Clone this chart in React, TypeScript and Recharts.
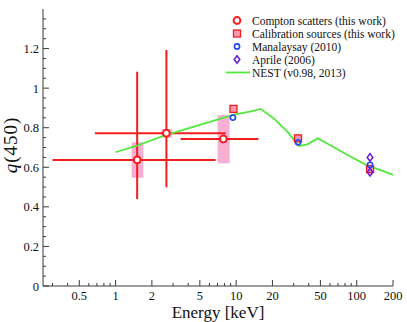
import { ScatterChart, Scatter, XAxis, YAxis, ErrorBar, ReferenceArea } from 'recharts'

const FONT = 'Liberation Serif, Times New Roman, Times, serif'
const RED = '#f41c1c'
const PINK = '#f7b0d4'
const SQUARE_FILL = '#f59ab0'
const GREEN = '#52e83c'
const BLUE = '#2448f2'
const PURPLE = '#6a18d2'
const AXIS = '#3a3a3a'

// Compton scatters (this work)
const comptonE = [1.51, 2.64, 7.83]
const comptonQ = [0.637, 0.772, 0.743]
const comptonELow = [0.3, 0.673, 3.46]
const comptonEHigh = [6.76, 8.18, 15.3]
const comptonQLow = [0.44, 0.499, 0.743]
const comptonQHigh = [1.083, 1.193, 0.743]

// systematic bands around the Compton points
const sysEMin = [1.36, 2.4, 7.02]
const sysEMax = [1.7, 2.95, 8.83]
const sysQMin = [0.547, 0.75, 0.62]
const sysQMax = [0.726, 0.793, 0.864]

// Calibration sources (this work)
const calibE = [9.5, 32.6, 129]
const calibQ = [0.895, 0.746, 0.591]

// Manalaysay (2010)
const manaE = [9.4, 32.6, 129]
const manaQ = [0.851, 0.726, 0.612]

// Aprile (2006)
const aprileE = [129, 129]
const aprileQ = [0.65, 0.575]

// NEST (v0.98, 2013)
const nestE = [1.0, 1.5, 2.6, 5.0, 9.6, 13, 16, 20.6, 26.6, 33.2, 39, 47.5, 60, 84, 122, 158, 200]
const nestQ = [0.676, 0.709, 0.763, 0.814, 0.866, 0.881, 0.895, 0.846, 0.78, 0.708, 0.716, 0.746, 0.713, 0.662, 0.61, 0.586, 0.562]

const xMajor = [0.5, 1, 2, 5, 10, 20, 50, 100, 200]
const xMinor = [0.3, 0.4, 0.6, 0.7, 0.8, 0.9, 3, 4, 6, 7, 8, 9, 30, 40, 60, 70, 80, 90]
const yMajor = [0, 0.2, 0.4, 0.6, 0.8, 1, 1.2]
const yMinor = [0.05, 0.1, 0.15, 0.25, 0.3, 0.35, 0.45, 0.5, 0.55, 0.65, 0.7, 0.75, 0.85, 0.9, 0.95, 1.05, 1.1, 1.15, 1.25, 1.3, 1.35]

const compton = comptonE.map((e, i) => ({
  x: e,
  y: comptonQ[i],
  ex: [e - comptonELow[i], comptonEHigh[i] - e],
  ey: [comptonQ[i] - comptonQLow[i], comptonQHigh[i] - comptonQ[i]],
}))
const calib = calibE.map((e, i) => ({ x: e, y: calibQ[i] }))
const mana = manaE.map((e, i) => ({ x: e, y: manaQ[i] }))
const aprile = aprileE.map((e, i) => ({ x: e, y: aprileQ[i] }))
const nest = nestE.map((e, i) => ({ x: e, y: nestQ[i] }))

const xTicks = [...xMajor, ...xMinor]
const yTicks = [...yMajor, ...yMinor]

const textStyle = { fontFamily: FONT }

const makeTick = (side: 'bottom' | 'top' | 'left' | 'right', major: number[], labels: boolean) => (props: any) => {
  const { x, y, payload } = props
  const big = major.includes(payload.value)
  const len = big ? 6 : 3
  let line
  if (side === 'bottom') line = <line x1={x} x2={x} y1={y} y2={y - len} stroke={AXIS} />
  else if (side === 'top') line = <line x1={x} x2={x} y1={y} y2={y + len} stroke={AXIS} />
  else if (side === 'left') line = <line x1={x} x2={x + len} y1={y} y2={y} stroke={AXIS} />
  else line = <line x1={x} x2={x - len} y1={y} y2={y} stroke={AXIS} />
  return (
    <g>
      {line}
      {labels && big && side === 'bottom' && (
        <text x={x} y={y + 14} textAnchor="middle" fontSize={12.5} style={textStyle} fill="#111">
          {payload.value}
        </text>
      )}
      {labels && big && side === 'left' && (
        <text x={x - 4} y={y + 4.5} textAnchor="end" fontSize={12.5} style={textStyle} fill="#111">
          {payload.value}
        </text>
      )}
    </g>
  )
}

const ComptonDot = ({ cx, cy }: any) => (
  <circle cx={cx} cy={cy} r={3.4} fill="#fff" stroke={RED} strokeWidth={2} />
)
const CalibSquare = ({ cx, cy }: any) => (
  <rect x={cx - 3.5} y={cy - 3.5} width={7} height={7} fill={SQUARE_FILL} stroke={RED} strokeWidth={1.3} />
)
const ManaCircle = ({ cx, cy }: any) => (
  <circle cx={cx} cy={cy} r={2.6} fill="none" stroke={BLUE} strokeWidth={1.6} />
)
const AprileDiamond = ({ cx, cy }: any) => (
  <path d={`M${cx},${cy - 3.8}L${cx + 2.8},${cy}L${cx},${cy + 3.8}L${cx - 2.8},${cy}Z`} fill="none" stroke={PURPLE} strokeWidth={1.5} />
)
const NoDot = () => <g />

const legendRows = [
  'Compton scatters (this work)',
  'Calibration sources (this work)',
  'Manalaysay (2010)',
  'Aprile (2006)',
  'NEST (v0.98, 2013)',
]

function LegendBox() {
  const icons = [
    <ComptonDot cx={237} cy={20.5} />,
    <CalibSquare cx={237} cy={33.5} />,
    <ManaCircle cx={237} cy={46.5} />,
    <AprileDiamond cx={237} cy={59.5} />,
    <line x1={226} x2={250} y1={72.5} y2={72.5} stroke={GREEN} strokeWidth={1.8} />,
  ]
  return (
    <svg width={407} height={322} style={{ position: 'absolute', left: 0, top: 0, pointerEvents: 'none' }}>
      {legendRows.map((t, i) => (
        <g key={t}>
          {icons[i]}
          <text x={252} y={24.5 + i * 13} fontSize={11.5} style={textStyle} fill="#111">
            {t}
          </text>
        </g>
      ))}
    </svg>
  )
}

export default function App() {
  return (
    <div style={{ position: 'absolute', left: 0, top: 0, width: 407, height: 322, background: '#fff', fontFamily: FONT }}>
      <ScatterChart width={407} height={322} margin={{ top: 9, right: 14, bottom: 0, left: 0 }}>
        <XAxis
          xAxisId="b"
          dataKey="x"
          type="number"
          scale="log"
          domain={[0.25, 200]}
          allowDataOverflow
          ticks={xTicks}
          interval={0}
          tickSize={0}
          tickMargin={0}
          tickLine={false}
          axisLine={{ stroke: AXIS }}
          height={36}
          tick={makeTick('bottom', xMajor, true)}
          label={{
            content: () => (
              <text x={218} y={318} textAnchor="middle" fontSize={17} style={textStyle} fill="#111">
                Energy [keV]
              </text>
            ),
          }}
        />
        <XAxis
          xAxisId="t"
          orientation="top"
          dataKey="x"
          type="number"
          scale="log"
          domain={[0.25, 200]}
          allowDataOverflow
          ticks={xTicks}
          interval={0}
          tickSize={0}
          tickMargin={0}
          tickLine={false}
          axisLine={{ stroke: AXIS }}
          height={0}
          tick={makeTick('top', xMajor, false)}
        />
        <YAxis
          yAxisId="l"
          dataKey="y"
          type="number"
          domain={[0, 1.4]}
          allowDataOverflow
          ticks={yTicks}
          interval={0}
          tickSize={0}
          tickMargin={0}
          tickLine={false}
          axisLine={{ stroke: AXIS }}
          width={43}
          tick={makeTick('left', yMajor, true)}
          label={{
            content: () => (
              <text x={17} y={145} transform="rotate(-90 17 145)" textAnchor="middle" fontSize={19} style={textStyle} fill="#111" letterSpacing={1}>
                <tspan fontStyle="italic">q</tspan>
                <tspan>(450)</tspan>
              </text>
            ),
          }}
        />
        <YAxis
          yAxisId="r"
          orientation="right"
          dataKey="y"
          type="number"
          domain={[0, 1.4]}
          allowDataOverflow
          ticks={yTicks}
          interval={0}
          tickSize={0}
          tickMargin={0}
          tickLine={false}
          axisLine={{ stroke: AXIS }}
          width={0}
          tick={makeTick('right', yMajor, false)}
        />

        {comptonE.map((_, i) => (
          <ReferenceArea
            key={i}
            xAxisId="b"
            yAxisId="l"
            x1={sysEMin[i]}
            x2={sysEMax[i]}
            y1={sysQMin[i]}
            y2={sysQMax[i]}
            fill={PINK}
            fillOpacity={1}
            stroke="none"
          />
        ))}

        <Scatter
          xAxisId="b"
          yAxisId="l"
          data={nest}
          line={{ stroke: GREEN, strokeWidth: 1.8 }}
          shape={NoDot}
          isAnimationActive={false}
        />
        <Scatter xAxisId="b" yAxisId="l" data={compton} shape={ComptonDot} isAnimationActive={false}>
          <ErrorBar dataKey="ex" direction="x" width={0} stroke={RED} strokeWidth={2} />
          <ErrorBar dataKey="ey" direction="y" width={0} stroke={RED} strokeWidth={2} />
        </Scatter>
        <Scatter xAxisId="b" yAxisId="l" data={calib} shape={CalibSquare} isAnimationActive={false} />
        <Scatter xAxisId="b" yAxisId="l" data={mana} shape={ManaCircle} isAnimationActive={false} />
        <Scatter xAxisId="b" yAxisId="l" data={aprile} shape={AprileDiamond} isAnimationActive={false} />
      </ScatterChart>
      <LegendBox />
    </div>
  )
}
